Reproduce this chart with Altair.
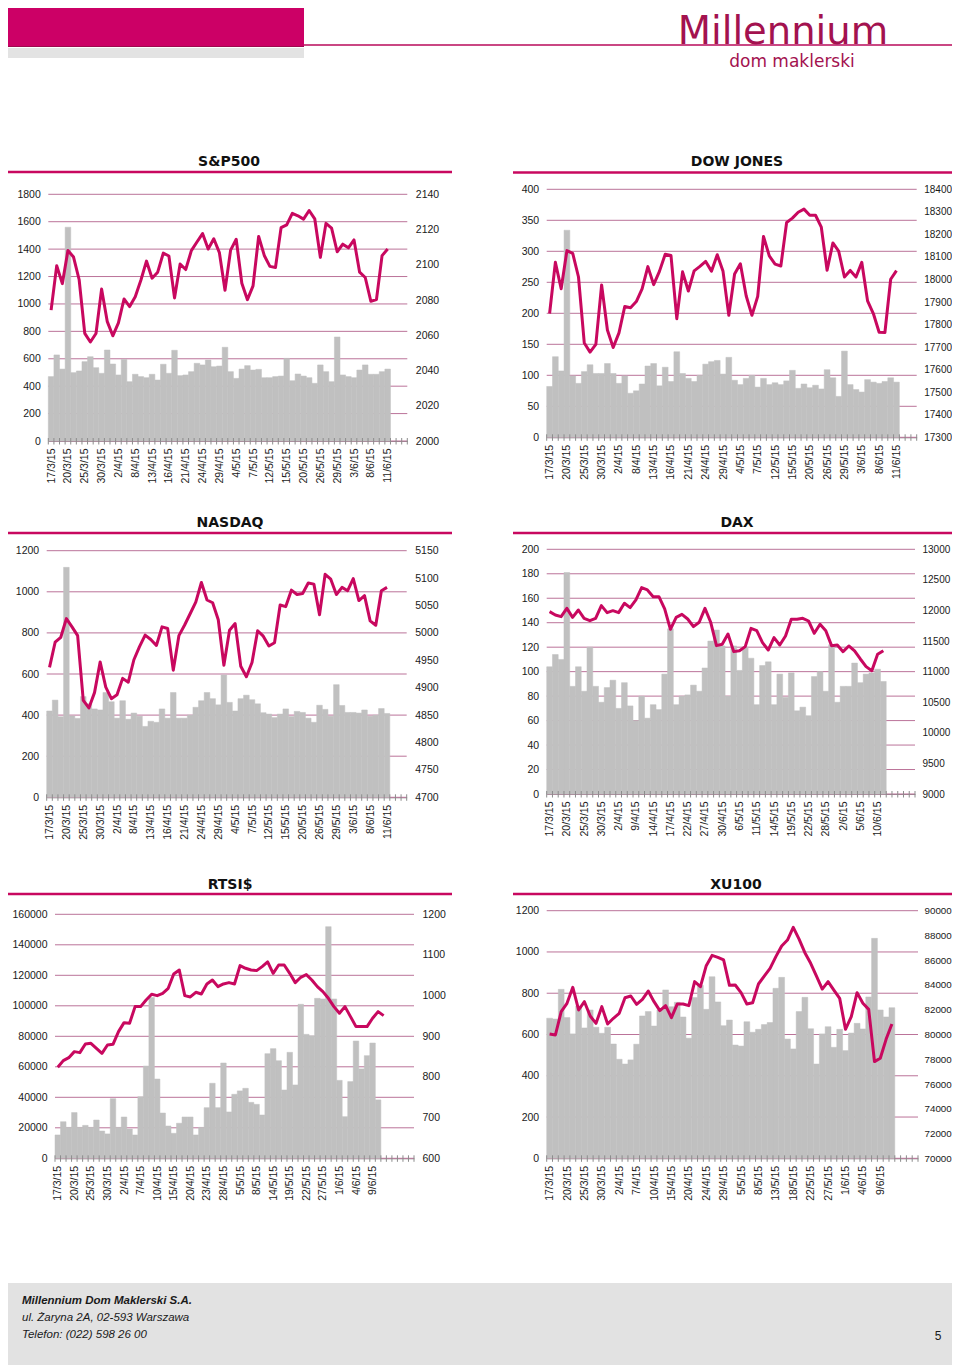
import altair as alt
import pandas as pd

# ---------------- data ----------------
US_LABELS = ["17/3/15", "20/3/15", "25/3/15", "30/3/15", "2/4/15", "8/4/15", "13/4/15", "16/4/15",
             "21/4/15", "24/4/15", "29/4/15", "4/5/15", "7/5/15", "12/5/15", "15/5/15", "20/5/15",
             "26/5/15", "29/5/15", "3/6/15", "8/6/15", "11/6/15"]
DAX_LABELS = ["17/3/15", "20/3/15", "25/3/15", "30/3/15", "2/4/15", "9/4/15", "14/4/15", "17/4/15",
              "22/4/15", "27/4/15", "30/4/15", "6/5/15", "11/5/15", "14/5/15", "19/5/15", "22/5/15",
              "28/5/15", "2/6/15", "5/6/15", "10/6/15"]
RTS_LABELS = ["17/3/15", "20/3/15", "25/3/15", "30/3/15", "2/4/15", "7/4/15", "10/4/15", "15/4/15",
              "20/4/15", "23/4/15", "28/4/15", "5/5/15", "8/5/15", "14/5/15", "19/5/15", "22/5/15",
              "27/5/15", "1/6/15", "4/6/15", "9/6/15"]
XU_LABELS = ["17/3/15", "20/3/15", "25/3/15", "30/3/15", "2/4/15", "7/4/15", "10/4/15", "15/4/15",
             "20/4/15", "24/4/15", "29/4/15", "5/5/15", "8/5/15", "13/5/15", "18/5/15", "22/5/15",
             "27/5/15", "1/6/15", "4/6/15", "9/6/15"]

SP_VOL = [470, 628, 525, 1560, 499, 511, 579, 615, 535, 494, 664, 562, 482, 596, 433, 487, 470, 462, 487, 445,
          560, 494, 662, 477, 482, 506, 567, 555, 591, 542, 547, 684, 506, 457, 525, 550, 518, 523, 462, 462,
          470, 474, 603, 440, 489, 474, 462, 421, 555, 506, 433, 759, 482, 470, 462, 518, 555, 487, 487, 506, 525]
SP_IDX = [2074.3, 2099.5, 2089.3, 2108.1, 2104.4, 2091.5, 2061.1, 2056.2, 2061.0, 2086.2,
          2067.9, 2059.7, 2067.0, 2080.6, 2076.3, 2081.9, 2091.2, 2102.1, 2092.4, 2095.8,
          2106.6, 2105.0, 2081.2, 2100.4, 2097.3, 2108.0, 2112.9, 2117.7, 2108.9, 2114.8,
          2106.9, 2085.5, 2108.3, 2114.5, 2089.5, 2080.2, 2088.0, 2116.1, 2105.3, 2099.1,
          2098.5, 2121.1, 2122.7, 2129.2, 2127.8, 2125.9, 2130.8, 2126.1, 2104.2, 2123.5,
          2120.8, 2107.4, 2111.7, 2109.6, 2114.1, 2095.8, 2092.8, 2079.3, 2080.2, 2105.2, 2108.9]

DJ_VOL = [82, 130, 107, 334, 99, 87, 106, 117, 103, 103, 119, 103, 87, 99, 71, 75, 86, 115, 119, 83,
          113, 90, 138, 103, 95, 90, 100, 118, 122, 124, 102, 129, 92, 85, 95, 100, 81, 95, 85, 88,
          85, 91, 108, 79, 86, 80, 84, 78, 109, 96, 66, 139, 85, 77, 73, 93, 89, 87, 90, 96, 89]
DJ_IDX = [17849, 18076, 17959, 18128, 18116, 18011, 17718, 17678, 17712, 17976,
          17776, 17698, 17763, 17880, 17875, 17902, 17958, 18057, 17977, 18036,
          18112, 18106, 17826, 18034, 17949, 18038, 18058, 18080, 18037, 18110,
          18036, 17841, 18024, 18070, 17928, 17841, 17925, 18191, 18105, 18068,
          18060, 18253, 18272, 18298, 18312, 18285, 18285, 18232, 18041, 18162,
          18126, 18011, 18040, 18011, 18076, 17905, 17849, 17766, 17765, 18001, 18039]

NQ_VOL = [420, 473, 392, 1119, 396, 384, 490, 455, 430, 425, 510, 465, 385, 470, 380, 410, 395, 345, 370, 365,
          430, 385, 510, 385, 385, 400, 438, 470, 510, 480, 450, 595, 462, 420, 480, 497, 475, 455, 412, 405,
          388, 405, 430, 393, 418, 413, 385, 365, 448, 428, 395, 548, 447, 413, 413, 410, 425, 395, 400, 432, 408]
NQ_IDX = [4937, 4983, 4992, 5026, 5011, 4995, 4877, 4863, 4891, 4947,
          4901, 4880, 4887, 4917, 4910, 4951, 4975, 4996, 4988, 4977,
          5011, 5008, 4932, 4995, 5014, 5035, 5056, 5092, 5060, 5055,
          5024, 4941, 5005, 5017, 4939, 4920, 4946, 5004, 4994, 4976,
          4982, 5051, 5048, 5078, 5070, 5072, 5091, 5089, 5033, 5107,
          5098, 5070, 5083, 5077, 5099, 5059, 5068, 5022, 5014, 5077, 5083]

DAX_VOL = [104, 114, 110, 181, 88, 104, 84, 120, 88, 75, 87, 93, 70, 91, 72, 60, 80, 62, 73, 69,
           98, 135, 73, 80, 81, 89, 84, 103, 125, 134, 121, 80, 121, 101, 120, 111, 73, 105, 108, 73,
           98, 79, 99, 68, 71, 64, 96, 100, 84, 122, 75, 88, 88, 107, 91, 98, 99, 102, 92]
DAX_IDX = [11981, 11926, 11899, 12035, 11888, 12008, 11872, 11834, 11872, 12079,
           11965, 11997, 11965, 12117, 12046, 12172, 12373, 12335, 12226, 12226,
           12025, 11692, 11888, 11937, 11861, 11736, 11807, 12035, 11807, 11425,
           11447, 11616, 11327, 11343, 11409, 11708, 11670, 11474, 11354, 11556,
           11436, 11583, 11856, 11856, 11872, 11828, 11627, 11774, 11670, 11425,
           11436, 11327, 11420, 11338, 11207, 11082, 11016, 11283, 11343]

RTS_VOL = [15300, 24000, 20300, 30000, 20300, 21600, 20300, 25100, 17900, 16000,
           39100, 20300, 27100, 19200, 15300, 40400, 60500, 105400, 52000, 29700,
           21200, 16400, 23000, 27100, 27100, 15300, 20300, 33200, 49200, 33200,
           62500, 30400, 42000, 44200, 45900, 36700, 35400, 28400, 68600, 71900,
           64000, 44800, 69500, 48100, 101000, 81300, 80400, 104900, 104500, 151900,
           104500, 51100, 27300, 50300, 76900, 58600, 67300, 75600, 38300]
RTS_IDX = [823.8, 840.2, 847.5, 862.3, 859.8, 881.1, 882.8, 870.5, 858.2, 878.7,
           880.3, 911.5, 933.6, 932.0, 973.0, 973.0, 989.3, 1003.3, 1000.0, 1005.7,
           1018.0, 1053.3, 1063.1, 1000.0, 996.7, 1008.2, 1004.1, 1028.7, 1038.5, 1022.1,
           1028.7, 1032.0, 1028.7, 1073.8, 1067.2, 1063.1, 1061.5, 1071.3, 1082.8, 1054.9,
           1075.4, 1075.4, 1054.9, 1032.0, 1045.1, 1051.6, 1038.5, 1022.1, 1009.8, 993.4,
           973.0, 956.6, 973.0, 948.4, 923.8, 923.8, 923.8, 944.3, 960.7, 950.8]

XU_VOL = [679, 675, 819, 682, 603, 738, 632, 719, 635, 606, 635, 554, 480, 457, 477, 553, 690, 711, 641, 719,
          816, 735, 756, 685, 582, 779, 838, 722, 880, 758, 643, 670, 549, 544, 662, 611, 625, 648, 658, 824,
          877, 578, 530, 711, 780, 628, 457, 603, 638, 538, 625, 522, 607, 654, 627, 782, 1066, 719, 685, 730]
XU_IDX = [80040, 79960, 81840, 82520, 83810, 81980, 82650, 81490, 80900, 82250,
          80850, 81310, 81710, 82970, 83110, 82440, 82840, 83510, 82650, 81930,
          82330, 81360, 82460, 82460, 82330, 84270, 83860, 85560, 86390, 86230,
          86020, 83970, 84000, 83380, 82460, 82570, 84080, 84720, 85340, 86290,
          87150, 87630, 88650, 87710, 86610, 85750, 84720, 83670, 84270, 83590,
          82920, 80420, 81440, 83380, 82520, 82030, 77810, 78080, 79610, 80850]

TITLES = ["S&P500", "DOW JONES", "NASDAQ", "DAX", "RTSI$", "XU100"]
LOGO_TEXT = ["Millennium", "dom maklerski"]
FOOTER_LINES = ["Millennium Dom Maklerski S.A.", "ul. Żaryna 2A, 02-593 Warszawa", "Telefon: (022) 598 26 00"]
PAGE_NO = "5"

# ---------------- style / page geometry ----------------
MAG = "#c8085f"
MAG_HDR = "#cc0066"
LOGO = "#a3124f"
GRID = "#bb7399"
BAR = "#c0c0c0"
AXC = "#1a1a1a"
TICK = "#8c8c8c"
FONT = "Liberation Sans"
CW, CH = 944, 1357          # whole page canvas (chart coordinates = page - 8)


def P(v):
    return v - 8


def panel(title, labels, vol, px, nslots, vmax, vstep, pmin, pmax, pstep, g):
    L, R, T, B = [P(v) for v in g["plot"]]
    tx, ty = [P(v) for v in g["title"]]
    rx1, rx2, ry = [P(v) for v in g["rule"]]
    rfs, rpad = g.get("raxis", (10.5, 8))

    full = [""] * nslots
    for k, lab in enumerate(labels):
        full[3 * k] = lab
    expr = "[" + ",".join("'%s'" % s for s in full) + "][datum.value]"

    bars_df = pd.DataFrame({"i": list(range(len(vol))), "v": vol})
    line_df = pd.DataFrame({"i": list(range(len(px))), "p": px})
    grid_df = pd.DataFrame({"g": list(range(0, vmax + 1, vstep))})
    tick_df = pd.DataFrame({"s": list(range(nslots + 1))})
    one = pd.DataFrame({"t": [title]})

    xs = alt.Scale(domain=[-0.5, nslots - 0.5], range=[L, R], nice=False, zero=False)
    ysl = alt.Scale(domain=[0, vmax], range=[B, T], nice=False, zero=False)
    ysr = alt.Scale(domain=[pmin, pmax], range=[B, T], nice=False, zero=False)

    xaxis = alt.Axis(values=list(range(nslots)), labelExpr=expr, labelAngle=270, labelOverlap=False,
                     labelFlush=False, labelBound=False, labelPadding=7, ticks=False, tickSize=0,
                     domainColor=TICK, grid=False, title=None, labelFont=FONT, labelFontSize=10.5,
                     labelColor=AXC, offset=B - CH, orient="bottom")
    laxis = alt.Axis(orient="left", values=list(range(0, vmax + 1, vstep)), format="d", grid=False,
                     domain=False, ticks=False, tickSize=0, labelPadding=8, title=None, labelFont=FONT,
                     labelFontSize=10.5, labelColor=AXC, offset=-L)
    raxis = alt.Axis(orient="right", values=list(range(pmin, pmax + 1, pstep)), format="d", grid=False,
                     domain=False, ticks=False, tickSize=0, labelPadding=rpad, title=None, labelFont=FONT,
                     labelFontSize=rfs, labelColor=AXC, offset=R - CW)

    grid = alt.Chart(grid_df).mark_rule(color=GRID, strokeWidth=1).encode(
        y=alt.Y("g:Q", scale=ysl, axis=None), x=alt.value(L), x2=alt.value(R))
    bars = alt.Chart(bars_df).transform_calculate(
        x0="datum.i - 0.5", x1="datum.i + 0.5", z="0"
    ).mark_rect(color=BAR, stroke=BAR, strokeWidth=0.5).encode(
        x=alt.X("x0:Q", scale=xs, axis=xaxis), x2="x1:Q",
        y=alt.Y("v:Q", scale=ysl, axis=laxis), y2="z:Q")
    ticks = alt.Chart(tick_df).transform_calculate(b="datum.s - 0.5").mark_rule(
        color=TICK, strokeWidth=1).encode(
        x=alt.X("b:Q", scale=xs, axis=None), y=alt.value(B - 3), y2=alt.value(B + 3.5))
    line = alt.Chart(line_df).mark_line(color=MAG, strokeWidth=3, strokeJoin="round").encode(
        x=alt.X("i:Q", scale=xs, axis=None),
        y=alt.Y("p:Q", scale=ysr, axis=raxis))
    rule = alt.Chart(one).mark_rule(color=MAG, strokeWidth=2.5).encode(
        x=alt.value(rx1), x2=alt.value(rx2), y=alt.value(ry))
    ttl = alt.Chart(one).mark_text(font="DejaVu Sans", fontWeight="bold", fontSize=14,
                                   align="center", baseline="middle", color="#111111").encode(
        text="t:N", x=alt.value(tx), y=alt.value(ty))
    return [grid, bars, ticks, line, rule, ttl]


layers = []
layers += panel(TITLES[0], US_LABELS, SP_VOL, SP_IDX, 64, 1800, 200, 2000, 2140, 20,
                {"plot": (48.3, 407.3, 194.3, 441), "title": (229, 162), "rule": (8, 452, 172)})
layers += panel(TITLES[1], US_LABELS, DJ_VOL, DJ_IDX, 64, 400, 50, 17300, 18400, 100,
                {"plot": (546.7, 916.7, 189.3, 437.3), "title": (737, 162), "rule": (513, 952, 172.5),
                 "raxis": (10, 7)})
layers += panel(TITLES[2], US_LABELS, NQ_VOL, NQ_IDX, 64, 1200, 200, 4700, 5150, 50,
                {"plot": (46.7, 406.7, 550.7, 797.3), "title": (230, 523), "rule": (8, 452, 533)})
layers += panel(TITLES[3], DAX_LABELS, DAX_VOL, DAX_IDX, 64, 200, 20, 9000, 13000, 500,
                {"plot": (546.7, 915, 549.3, 794), "title": (737, 523), "rule": (513, 952, 533),
                 "raxis": (10, 7)})
layers += panel(TITLES[4], RTS_LABELS, RTS_VOL, RTS_IDX, 65, 160000, 20000, 600, 1200, 100,
                {"plot": (55, 414, 914.3, 1158.3), "title": (230, 885), "rule": (8, 452, 894)})
layers += panel(TITLES[5], XU_LABELS, XU_VOL, XU_IDX, 64, 1200, 200, 70000, 90000, 2000,
                {"plot": (546.7, 918, 910.7, 1158.3), "title": (736, 885), "rule": (513, 952, 894),
                 "raxis": (9.8, 6)})

# ---------------- header ----------------
hd = pd.DataFrame({"t": [LOGO_TEXT[0]], "s": [LOGO_TEXT[1]]})
layers += [
    alt.Chart(hd).mark_rect(color=MAG_HDR).encode(
        x=alt.value(P(8)), x2=alt.value(P(304)), y=alt.value(P(8)), y2=alt.value(P(47))),
    alt.Chart(hd).mark_rule(color="#9c0a4e", strokeWidth=1).encode(
        x=alt.value(P(8)), x2=alt.value(P(304)), y=alt.value(P(46.5))),
    alt.Chart(hd).mark_rect(color="#e3e3e3").encode(
        x=alt.value(P(8)), x2=alt.value(P(304)), y=alt.value(P(48)), y2=alt.value(P(58))),
    alt.Chart(hd).mark_rule(color="#b80a5a", strokeWidth=1.5).encode(
        x=alt.value(P(304)), x2=alt.value(P(952)), y=alt.value(P(45))),
    alt.Chart(hd).mark_text(font="DejaVu Sans", fontSize=38.5, color=LOGO,
                            align="center", baseline="alphabetic").encode(
        text="t:N", x=alt.value(P(783)), y=alt.value(P(44))),
    alt.Chart(hd).mark_text(font="DejaVu Sans", fontSize=17, color=LOGO,
                            align="center", baseline="alphabetic").encode(
        text="s:N", x=alt.value(P(792)), y=alt.value(P(67))),
]

# ---------------- footer ----------------
fd = pd.DataFrame({"line": FOOTER_LINES, "k": [0, 1, 2]})
layers += [
    alt.Chart(pd.DataFrame({"a": [0]})).mark_rect(color="#e2e2e2").encode(
        x=alt.value(P(8)), x2=alt.value(P(952)), y=alt.value(P(1283)), y2=alt.value(P(1365))),
    alt.Chart(fd).transform_filter("datum.k == 0").mark_text(
        font=FONT, fontSize=11.5, fontStyle="italic", fontWeight="bold", align="left",
        baseline="middle", color="#1a1a1a").encode(text="line:N", x=alt.value(P(22)), y=alt.value(P(1301))),
    alt.Chart(fd).transform_filter("datum.k == 1").mark_text(
        font=FONT, fontSize=11.5, fontStyle="italic", align="left",
        baseline="middle", color="#1a1a1a").encode(text="line:N", x=alt.value(P(22)), y=alt.value(P(1318))),
    alt.Chart(fd).transform_filter("datum.k == 2").mark_text(
        font=FONT, fontSize=11.5, fontStyle="italic", align="left",
        baseline="middle", color="#1a1a1a").encode(text="line:N", x=alt.value(P(22)), y=alt.value(P(1335))),
    alt.Chart(pd.DataFrame({"p": [PAGE_NO]})).mark_text(
        font=FONT, fontSize=12, align="center", baseline="middle", color="#1a1a1a").encode(
        text="p:N", x=alt.value(P(938)), y=alt.value(P(1336))),
]

chart = alt.layer(*layers).resolve_scale(x="independent", y="independent").properties(
    width=CW, height=CH, padding=0, background="white",
    autosize=alt.AutoSizeParams(type="none")
).configure_view(stroke=None)

chart.save("out.html", embed_options={"renderer": "svg", "actions": False})
